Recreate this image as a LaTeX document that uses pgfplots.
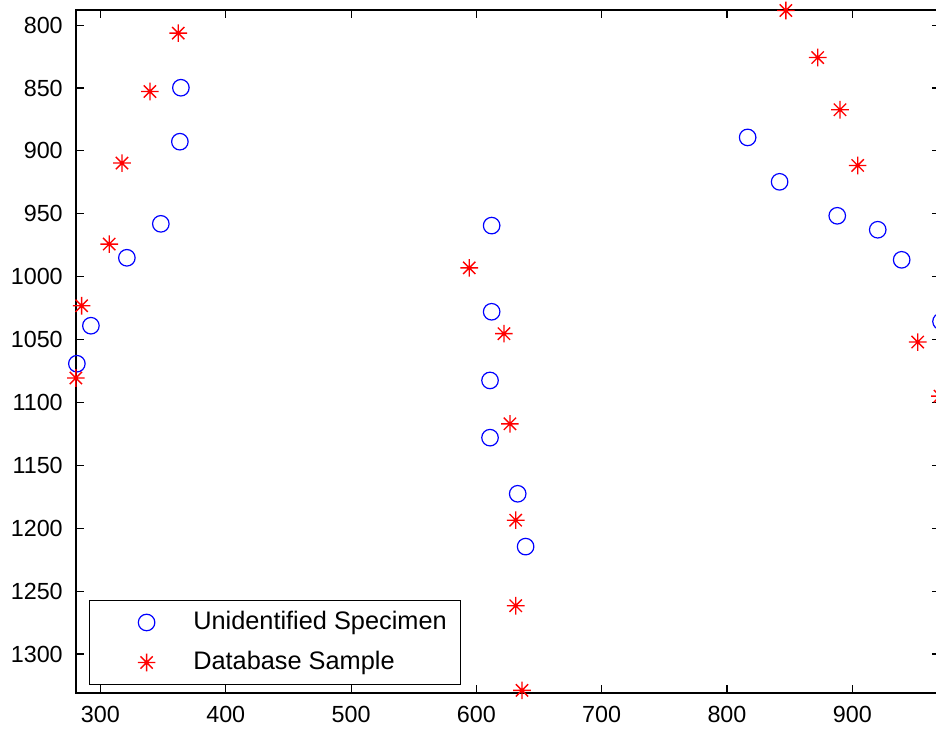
\documentclass[border=0pt]{standalone}
\usepackage{fontspec}
\setmainfont{Liberation Sans}
\usepackage{pgfplots}
\pgfplotsset{compat=1.18}

% MATLAB-style '*' marker: a plus with a smaller x on top
\pgfdeclareplotmark{mstar}{%
  \pgfpathmoveto{\pgfqpoint{-\pgfplotmarksize}{0pt}}\pgfpathlineto{\pgfqpoint{\pgfplotmarksize}{0pt}}%
  \pgfpathmoveto{\pgfqpoint{0pt}{-\pgfplotmarksize}}\pgfpathlineto{\pgfqpoint{0pt}{\pgfplotmarksize}}%
  \pgfpathmoveto{\pgfqpoint{-.7\pgfplotmarksize}{-.7\pgfplotmarksize}}\pgfpathlineto{\pgfqpoint{.7\pgfplotmarksize}{.7\pgfplotmarksize}}%
  \pgfpathmoveto{\pgfqpoint{-.7\pgfplotmarksize}{.7\pgfplotmarksize}}\pgfpathlineto{\pgfqpoint{.7\pgfplotmarksize}{-.7\pgfplotmarksize}}%
  \pgfusepathqstroke}

\definecolor{mblue}{RGB}{0,0,255}
\definecolor{mred}{RGB}{255,0,0}

\begin{document}
\begin{tikzpicture}
\begin{axis}[
  scale only axis,
  width=648pt, height=512.25pt,
  xmin=280.5, xmax=970,
  ymin=788, ymax=1331,
  y dir=reverse,
  clip=false,
  xtick={300,400,...,900},
  ytick={800,850,...,1300},
  tick align=inside, tick pos=both,
  major tick length=6pt,
  axis line style={line width=0.8pt, black},
  tick style={line width=0.8pt, black},
  /pgf/number format/assume math mode=true,
  /pgf/number format/1000 sep={},
  tick label style={font=\fontsize{17.5}{20}\selectfont, inner sep=0pt},
  yticklabel style={xshift=-9.75pt},
  xticklabel style={yshift=-9.5pt},
  legend cell align=left,
  legend style={
    at={(axis description cs:0.0155,0.0117)}, anchor=south west,
    draw=black, line width=0.8pt,
    font=\fontsize{19}{22}\selectfont,
    inner xsep=10pt, inner ysep=7.5pt,
    row sep=12pt,
    nodes={inner sep=0pt, text height=14pt, text depth=4pt},
    /tikz/every even column/.append style={column sep=0pt},
    /tikz/every odd column/.append style={column sep=22.5pt},
  },
  legend image code/.code={%
    \path[draw=none] (0pt,0pt) -- (45pt,0pt);
    \draw[#1] plot coordinates {(32.5pt,0pt)};},
]
\addplot[only marks, mark=o, mark size=6.2pt, mblue, mark options={line width=0.9pt}]
  coordinates {
  (281.2,1069.2) (292.4,1039.0) (321.1,985.0) (348.2,958.0) (363.4,892.7) (364.2,849.8)
  (612.2,959.4) (612.2,1027.9) (610.9,1082.5) (610.9,1128.0) (633.0,1172.6) (639.3,1214.6)
  (816.5,889.3) (842.0,924.6) (888.0,951.6) (920.3,962.7) (939.4,986.6) (970.8,1035.6)
};
\addlegendentry{Unidentified Specimen}
\addplot[only marks, mark=mstar, mark size=6.6pt, mred, mark options={line width=1pt}]
  coordinates {
  (362.1,806.4) (339.5,852.8) (317.2,909.7) (307.0,974.1) (285.0,1023.1) (280.4,1080.6)
  (594.3,993.0) (622.0,1045.3) (626.8,1117.0) (631.4,1193.6) (631.4,1261.6) (636.4,1328.9)
  (847.0,788.4) (872.4,825.8) (890.2,867.3) (904.3,911.6) (952.2,1052.0) (970.0,1095.0)
};
\addlegendentry{Database Sample}
\end{axis}
\pgfresetboundingbox
\path[use as bounding box]
  ([shift={(-57pt,-29.25pt)}]current axis.south west)
  rectangle ([shift={(-3pt,7.5pt)}]current axis.north east);
\end{tikzpicture}
\end{document}
